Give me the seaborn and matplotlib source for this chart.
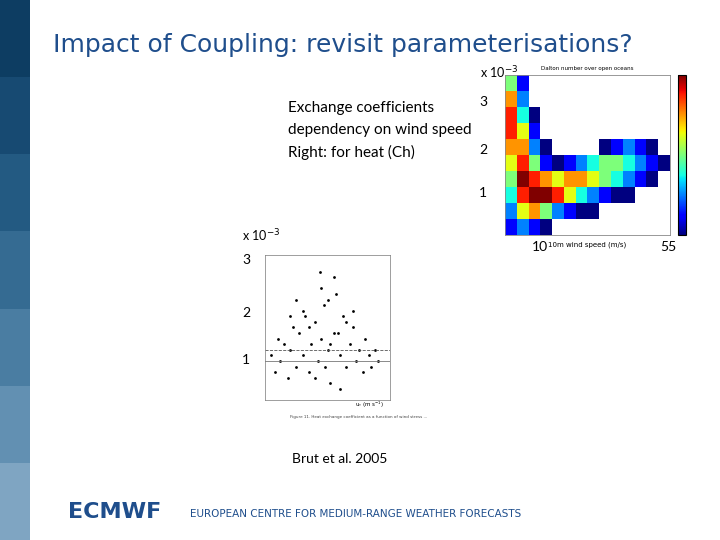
import numpy as np
import matplotlib
matplotlib.use("Agg")
import matplotlib.pyplot as plt
import seaborn as sns
import pandas as pd

title = "Impact of Coupling: revisit parameterisations?"
caption_lines = ["Exchange coefficients", "dependency on wind speed", "Right: for heat (Ch)"]
right_ticks = ["3", "2", "1"]
left_ticks = ["3", "2", "1"]
wind_labels = ["10", "55"]
strip_colors = ["#0d3d62", "#174a72", "#235a82", "#356b92", "#4a7da2", "#6290b2", "#7fa5c2"]

# density grid (rows: Ch high->low, cols: wind speed low->high)
density = [
    [5, 2, 0, 0, 0, 0, 0, 0, 0, 0, 0, 0, 0, 0],
    [7, 3, 0, 0, 0, 0, 0, 0, 0, 0, 0, 0, 0, 0],
    [8, 4, 1, 0, 0, 0, 0, 0, 0, 0, 0, 0, 0, 0],
    [8, 6, 2, 0, 0, 0, 0, 0, 0, 0, 0, 0, 0, 0],
    [7, 7, 3, 1, 0, 0, 0, 0, 1, 2, 3, 2, 1, 0],
    [6, 8, 5, 2, 1, 2, 3, 4, 5, 5, 4, 3, 2, 1],
    [5, 9, 8, 7, 6, 7, 7, 6, 5, 4, 3, 2, 1, 0],
    [4, 8, 9, 9, 8, 6, 4, 3, 2, 1, 1, 0, 0, 0],
    [3, 6, 7, 5, 3, 2, 1, 1, 0, 0, 0, 0, 0, 0],
    [2, 3, 2, 1, 0, 0, 0, 0, 0, 0, 0, 0, 0, 0],
]

brut_x = [0.05, 0.08, 0.1, 0.12, 0.15, 0.18, 0.2, 0.22, 0.25, 0.27, 0.3, 0.32, 0.35, 0.37,
          0.4, 0.42, 0.45, 0.47, 0.5, 0.52, 0.55, 0.57, 0.6, 0.62, 0.65, 0.68, 0.7, 0.73,
          0.75, 0.78, 0.8, 0.83, 0.85, 0.88, 0.9, 0.3, 0.45, 0.55, 0.6, 0.4, 0.5, 0.35,
          0.65, 0.7, 0.25, 0.2, 0.58, 0.48, 0.52, 0.44]
brut_y = [1.2, 0.9, 1.5, 1.1, 1.4, 0.8, 1.3, 1.7, 1.0, 1.6, 1.2, 1.9, 0.9, 1.4,
          1.8, 1.1, 1.5, 2.1, 1.3, 0.7, 1.6, 2.3, 1.2, 1.9, 1.0, 1.4, 1.7, 1.1,
          1.3, 0.9, 1.5, 1.2, 1.0, 1.3, 1.1, 2.0, 2.4, 2.6, 0.6, 0.8, 2.2, 1.7,
          1.8, 2.0, 2.2, 1.9, 1.6, 1.0, 1.4, 2.7]

fig = plt.figure(figsize=(7.2, 5.4), dpi=100)
fig.patch.set_facecolor("white")

for i, c in enumerate(strip_colors):
    fig.add_artist(plt.Rectangle((0, 1 - (i + 1) / 7), 30 / 720, 1 / 7,
                                 transform=fig.transFigure, color=c, lw=0))

fig.text(53 / 720, 1 - 45 / 540, title, color="#1f4e8c", fontsize=18, va="center")

ax1 = fig.add_axes([505 / 720, 1 - 235 / 540, 165 / 720, 160 / 540])
df = pd.DataFrame(density)
sns.heatmap(df, ax=ax1, cmap="jet", mask=(df == 0), cbar=False, xticklabels=False, yticklabels=False)
ax1.set_facecolor("white")
for s in ax1.spines.values():
    s.set_visible(True); s.set_color("#888888"); s.set_linewidth(0.6)
ax1.text(0.5, 1.03, "Dalton number over open oceans", transform=ax1.transAxes, ha="center", fontsize=4)
ax1.text(0.5, -0.07, "10m wind speed (m/s)", transform=ax1.transAxes, ha="center", fontsize=5)
cax = fig.add_axes([678 / 720, 1 - 235 / 540, 8 / 720, 160 / 540])
cb = fig.colorbar(plt.cm.ScalarMappable(cmap="jet"), cax=cax)
cb.set_ticks([])

ax2 = fig.add_axes([265 / 720, 1 - 400 / 540, 125 / 720, 145 / 540])
sns.scatterplot(x=brut_x, y=brut_y, ax=ax2, color="black", s=4, linewidth=0)
ax2.axhline(1.3, color="#555555", lw=0.6, ls="--")
ax2.axhline(1.1, color="#777777", lw=0.6)
ax2.set_xlim(0, 1); ax2.set_ylim(0.4, 3)
ax2.set_xticks([]); ax2.set_yticks([])
for s in ax2.spines.values():
    s.set_linewidth(0.5); s.set_color("#777777")
ax2.text(0.95, -0.05, "u$_{*}$ (m s$^{-1}$)", transform=ax2.transAxes, ha="right", fontsize=4)
fig.text(290 / 720, 1 - 418 / 540, "Figure 11. Heat exchange coefficient as a function of wind stress ...",
         fontsize=3, color="#444444")

fig.text(480 / 720, 1 - 73 / 540, "x 10$^{-3}$", fontsize=9, va="center", family="Lato")
for i, line in enumerate(caption_lines):
    fig.text(288 / 720, 1 - (108 + 22 * i) / 540, line, fontsize=11, va="center", family="Lato")
for t, y in zip(right_ticks, [102, 150, 193]):
    fig.text(483 / 720, 1 - y / 540, t, fontsize=10, va="center", ha="center", family="Lato")
fig.text(540 / 720, 1 - 247 / 540, wind_labels[0], fontsize=10, va="center", ha="center", family="Lato")
fig.text(668 / 720, 1 - 247 / 540, wind_labels[1], fontsize=10, va="center", ha="center", family="Lato")
fig.text(242 / 720, 1 - 236 / 540, "x 10$^{-3}$", fontsize=9, va="center", family="Lato")
for t, y in zip(left_ticks, [260, 313, 360]):
    fig.text(246 / 720, 1 - y / 540, t, fontsize=10, va="center", ha="center", family="Lato")
fig.text(292 / 720, 1 - 459 / 540, "Brut et al. 2005", fontsize=10, va="center", family="Lato")

fig.text(68 / 720, 1 - 512 / 540, "ECMWF", fontsize=16, fontweight="bold", color="#1f4e8c", va="center")
fig.text(190 / 720, 1 - 514 / 540, "EUROPEAN CENTRE FOR MEDIUM-RANGE WEATHER FORECASTS",
         fontsize=7.5, color="#1f4e8c", va="center")

fig.savefig("out.png", dpi=100)
